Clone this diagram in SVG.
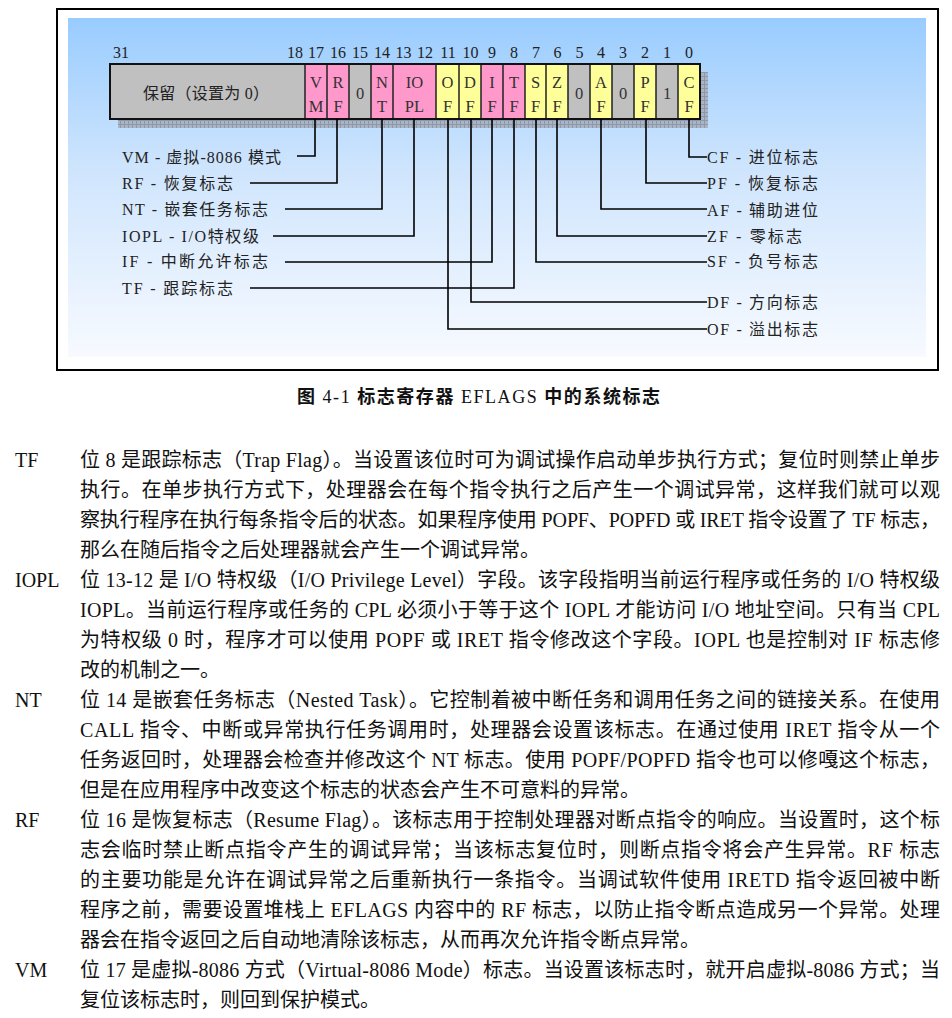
<svg xmlns="http://www.w3.org/2000/svg" width="952" height="1018" viewBox="0 0 952 1018">
  <defs>
    <linearGradient id="panelGrad" x1="0" y1="0" x2="0" y2="1">
      <stop offset="0" stop-color="#99ccff"/>
      <stop offset="0.45" stop-color="#cfe5fd"/>
      <stop offset="1" stop-color="#f7faff"/>
    </linearGradient>
    <pattern id="shadowGrid" width="4" height="4" patternUnits="userSpaceOnUse">
      <rect width="4" height="4" fill="#a9b4c4"/>
      <path d="M0,0.5 H4 M0.5,0 V4" stroke="#8d99ab" stroke-width="1"/>
    </pattern>
    <style>
      .num { font-family: 'Liberation Serif', serif; font-size: 16px; fill: #222; }
      .cell { font-family: 'Liberation Serif', serif; font-size: 16.5px; fill: #333; text-anchor: middle; }
      .lbl { font-family: 'Liberation Serif', 'Noto Sans CJK SC', serif; font-size: 16px; fill: #222; }
      .body { font-family: 'Liberation Serif', 'Noto Sans CJK SC', serif; font-size: 20px; fill: #111; }
      .pink { fill: #ff99cc; }
      .yel { fill: #ffff99; }
      .gray { fill: #c0c0c0; }
      .div { stroke: #222; stroke-width: 1.5; }
      .conn { fill: none; stroke: #000; stroke-width: 1.6; }
    </style>
  </defs>

  <rect width="952" height="1018" fill="#ffffff"/>

  <!-- figure frame and tinted panel -->
  <rect x="57" y="9" width="881" height="361" fill="#ffffff" stroke="#000" stroke-width="2"/>
  <rect x="68" y="18" width="858" height="339" fill="url(#panelGrad)"/>

  <!-- bit numbers -->
  <g id="bit-numbers" class="num">
    <text x="113" y="58">31</text>
    <text x="303" y="58" text-anchor="end">18</text>
    <g text-anchor="middle">
      <text x="316" y="58">17</text>
      <text x="338" y="58">16</text>
      <text x="360" y="58">15</text>
      <text x="382" y="58">14</text>
      <text x="403.5" y="58">13</text>
      <text x="425" y="58">12</text>
      <text x="448" y="58">11</text>
      <text x="470.5" y="58">10</text>
      <text x="492" y="58">9</text>
      <text x="514" y="58">8</text>
      <text x="536" y="58">7</text>
      <text x="557.5" y="58">6</text>
      <text x="579.5" y="58">5</text>
      <text x="601" y="58">4</text>
      <text x="623" y="58">3</text>
      <text x="645" y="58">2</text>
      <text x="667" y="58">1</text>
      <text x="689" y="58">0</text>
    </g>
  </g>

  <!-- EFLAGS register -->
  <g id="register">
    <!-- drop shadow -->
    <rect x="118" y="119" width="590" height="9" fill="url(#shadowGrid)"/>
    <rect x="700" y="72" width="8" height="56" fill="url(#shadowGrid)"/>

    <rect x="110" y="64" width="195" height="55" class="gray"/>
    <rect x="305" y="64" width="22" height="55" class="pink"/>
    <rect x="327" y="64" width="22" height="55" class="pink"/>
    <rect x="349" y="64" width="22" height="55" class="gray"/>
    <rect x="371" y="64" width="22" height="55" class="pink"/>
    <rect x="393" y="64" width="43" height="55" class="pink"/>
    <rect x="436" y="64" width="23" height="55" class="yel"/>
    <rect x="459" y="64" width="22" height="55" class="yel"/>
    <rect x="481" y="64" width="22" height="55" class="pink"/>
    <rect x="503" y="64" width="22" height="55" class="pink"/>
    <rect x="525" y="64" width="21" height="55" class="yel"/>
    <rect x="546" y="64" width="22" height="55" class="yel"/>
    <rect x="568" y="64" width="22" height="55" class="gray"/>
    <rect x="590" y="64" width="22" height="55" class="yel"/>
    <rect x="612" y="64" width="22" height="55" class="gray"/>
    <rect x="634" y="64" width="22" height="55" class="yel"/>
    <rect x="656" y="64" width="22" height="55" class="gray"/>
    <rect x="678" y="64" width="22" height="55" class="yel"/>

    <g class="div">
      <path d="M305,64V119 M327,64V119 M349,64V119 M371,64V119 M393,64V119 M436,64V119 M459,64V119 M481,64V119 M503,64V119 M525,64V119 M546,64V119 M568,64V119 M590,64V119 M612,64V119 M634,64V119 M656,64V119 M678,64V119"/>
    </g>
    <rect x="110" y="64" width="590" height="55" fill="none" stroke="#111" stroke-width="2"/>

    <text x="206" y="99" class="lbl" font-size="17" text-anchor="middle" textLength="126">保留（设置为 0）</text>

    <g class="cell">
      <text x="316" y="88">V</text><text x="316" y="112">M</text>
      <text x="338" y="88">R</text><text x="338" y="112">F</text>
      <text x="360" y="99">0</text>
      <text x="382" y="88">N</text><text x="382" y="112">T</text>
      <text x="414.5" y="88">IO</text><text x="414.5" y="112">PL</text>
      <text x="447.5" y="88">O</text><text x="447.5" y="112">F</text>
      <text x="470" y="88">D</text><text x="470" y="112">F</text>
      <text x="492" y="88">I</text><text x="492" y="112">F</text>
      <text x="514" y="88">T</text><text x="514" y="112">F</text>
      <text x="535.5" y="88">S</text><text x="535.5" y="112">F</text>
      <text x="557" y="88">Z</text><text x="557" y="112">F</text>
      <text x="579" y="99">0</text>
      <text x="601" y="88">A</text><text x="601" y="112">F</text>
      <text x="623" y="99">0</text>
      <text x="645" y="88">P</text><text x="645" y="112">F</text>
      <text x="667" y="99">1</text>
      <text x="689" y="88">C</text><text x="689" y="112">F</text>
    </g>
  </g>

  <!-- leader lines from each flag bit to its label -->
  <g id="connectors" class="conn">
    <path d="M315,119 V156 H297"/>
    <path d="M337,119 V183 H250"/>
    <path d="M382,119 V209 H285"/>
    <path d="M414,119 V236 H273"/>
    <path d="M492,119 V262 H285"/>
    <path d="M514,119 V288 H250"/>
    <path d="M689,119 V157 H707"/>
    <path d="M646,119 V183 H707"/>
    <path d="M601,119 V209 H707"/>
    <path d="M557,119 V236 H707"/>
    <path d="M536,119 V262 H707"/>
    <path d="M471,119 V302 H707"/>
    <path d="M448,119 V329 H707"/>
  </g>

  <!-- system flag labels (left) -->
  <g id="label-vm" class="lbl"><text x="122" y="163" textLength="159">VM - 虚拟-8086 模式</text></g>
  <g id="label-rf" class="lbl"><text x="122" y="189" textLength="111">RF - 恢复标志</text></g>
  <g id="label-nt" class="lbl"><text x="122" y="215" textLength="146">NT - 嵌套任务标志</text></g>
  <g id="label-iopl" class="lbl"><text x="122" y="242" textLength="137">IOPL - I/O特权级</text></g>
  <g id="label-if" class="lbl"><text x="122" y="267" textLength="146">IF - 中断允许标志</text></g>
  <g id="label-tf" class="lbl"><text x="122" y="294" textLength="111">TF - 跟踪标志</text></g>

  <!-- status flag labels (right) -->
  <g id="label-cf" class="lbl"><text x="707" y="163" textLength="111">CF - 进位标志</text></g>
  <g id="label-pf" class="lbl"><text x="707" y="189" textLength="111">PF - 恢复标志</text></g>
  <g id="label-af" class="lbl"><text x="707" y="216" textLength="111">AF - 辅助进位</text></g>
  <g id="label-zf" class="lbl"><text x="707" y="242" textLength="95">ZF - 零标志</text></g>
  <g id="label-sf" class="lbl"><text x="707" y="267" textLength="111">SF - 负号标志</text></g>
  <g id="label-df" class="lbl"><text x="707" y="308" textLength="111">DF - 方向标志</text></g>
  <g id="label-of" class="lbl"><text x="707" y="335" textLength="111">OF - 溢出标志</text></g>

  <!-- caption -->
  <text x="297" y="403" textLength="363" font-size="18" fill="#111" font-family="'Liberation Serif', 'Noto Sans CJK SC', serif"><tspan font-family="'Noto Sans CJK SC', sans-serif" font-weight="bold">图</tspan> 4-1 <tspan font-family="'Noto Sans CJK SC', sans-serif" font-weight="bold">标志寄存器</tspan> EFLAGS <tspan font-family="'Noto Sans CJK SC', sans-serif" font-weight="bold">中的系统标志</tspan></text>

  <!-- flag descriptions -->
  <g class="body">
    <text x="15" y="467">TF</text>
    <text x="80" y="467" textLength="860">位 8 是跟踪标志（Trap Flag）。当设置该位时可为调试操作启动单步执行方式；复位时则禁止单步</text>
    <text x="80" y="497" textLength="860">执行。在单步执行方式下，处理器会在每个指令执行之后产生一个调试异常，这样我们就可以观</text>
    <text x="80" y="527" textLength="860">察执行程序在执行每条指令后的状态。如果程序使用 POPF、POPFD 或 IRET 指令设置了 TF 标志，</text>
    <text x="80" y="557">那么在随后指令之后处理器就会产生一个调试异常。</text>

    <text x="15" y="587">IOPL</text>
    <text x="80" y="587" textLength="860">位 13-12 是 I/O 特权级（I/O Privilege Level）字段。该字段指明当前运行程序或任务的 I/O 特权级</text>
    <text x="80" y="617" textLength="860">IOPL。当前运行程序或任务的 CPL 必须小于等于这个 IOPL 才能访问 I/O 地址空间。只有当 CPL</text>
    <text x="80" y="647" textLength="860">为特权级 0 时，程序才可以使用 POPF 或 IRET 指令修改这个字段。IOPL 也是控制对 IF 标志修</text>
    <text x="80" y="677">改的机制之一。</text>

    <text x="15" y="707">NT</text>
    <text x="80" y="707" textLength="860">位 14 是嵌套任务标志（Nested Task）。它控制着被中断任务和调用任务之间的链接关系。在使用</text>
    <text x="80" y="737" textLength="860">CALL 指令、中断或异常执行任务调用时，处理器会设置该标志。在通过使用 IRET 指令从一个</text>
    <text x="80" y="767" textLength="860">任务返回时，处理器会检查并修改这个 NT 标志。使用 POPF/POPFD 指令也可以修嘎这个标志，</text>
    <text x="80" y="797">但是在应用程序中改变这个标志的状态会产生不可意料的异常。</text>

    <text x="15" y="827">RF</text>
    <text x="80" y="827" textLength="860">位 16 是恢复标志（Resume Flag）。该标志用于控制处理器对断点指令的响应。当设置时，这个标</text>
    <text x="80" y="857" textLength="860">志会临时禁止断点指令产生的调试异常；当该标志复位时，则断点指令将会产生异常。RF 标志</text>
    <text x="80" y="887" textLength="860">的主要功能是允许在调试异常之后重新执行一条指令。当调试软件使用 IRETD 指令返回被中断</text>
    <text x="80" y="917" textLength="860">程序之前，需要设置堆栈上 EFLAGS 内容中的 RF 标志，以防止指令断点造成另一个异常。处理</text>
    <text x="80" y="947">器会在指令返回之后自动地清除该标志，从而再次允许指令断点异常。</text>

    <text x="15" y="977">VM</text>
    <text x="80" y="977" textLength="860">位 17 是虚拟-8086 方式（Virtual-8086 Mode）标志。当设置该标志时，就开启虚拟-8086 方式；当</text>
    <text x="80" y="1007">复位该标志时，则回到保护模式。</text>
  </g>
</svg>
